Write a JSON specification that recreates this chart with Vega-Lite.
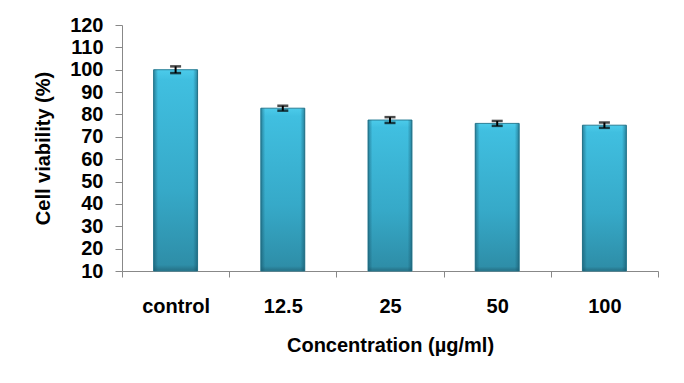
{
  "$schema": "https://vega.github.io/schema/vega-lite/v6.json",
  "autosize": {"type": "none"},
  "padding": {"left": 122, "top": 25, "right": 26, "bottom": 112},
  "width": 536,
  "height": 246,
  "background": "white",
  "config": {
    "view": {"stroke": null},
    "font": "Liberation Sans",
    "axis": {
      "domainColor": "#888888",
      "tickColor": "#888888",
      "domainWidth": 1,
      "tickWidth": 1,
      "grid": false,
      "labelFont": "Liberation Sans",
      "labelFontWeight": "bold",
      "labelFontSize": 20,
      "labelColor": "#000000",
      "labelOverlap": false,
      "titleFont": "Liberation Sans",
      "titleFontWeight": "bold",
      "titleFontSize": 20,
      "titleColor": "#000000"
    },
    "axisY": {"labelOverlap": false, "tickSize": 7, "labelPadding": 12, "titlePadding": 16}
  },
  "data": {
    "values": [
      {"conc": "control", "viability": 100.0, "err": 1.5},
      {"conc": "12.5", "viability": 82.8, "err": 1.1},
      {"conc": "25", "viability": 77.5, "err": 1.3},
      {"conc": "50", "viability": 76.0, "err": 1.1},
      {"conc": "100", "viability": 75.2, "err": 1.2}
    ]
  },
  "transform": [
    {"calculate": "datum.viability - datum.err", "as": "lo"},
    {"calculate": "datum.viability + datum.err", "as": "hi"}
  ],
  "encoding": {
    "x": {
      "field": "conc",
      "type": "nominal",
      "sort": ["control", "12.5", "25", "50", "100"],
      "scale": {"paddingInner": 0, "paddingOuter": 0},
      "axis": {
        "title": "Concentration (µg/ml)",
        "labelAngle": 0,
        "labelFontSize": 20,
        "tickBand": "extent",
        "tickSize": 6,
        "labelPadding": 19,
        "titlePadding": 19
      }
    }
  },
  "layer": [
    {
      "mark": {
        "type": "bar",
        "width": {"band": 0.41},
        "color": {
          "x1": 0, "y1": 0, "x2": 0, "y2": 1,
          "gradient": "linear",
          "stops": [
            {"offset": 0, "color": "#4CCBEA"},
            {"offset": 0.05, "color": "#40BFE0"},
            {"offset": 0.6, "color": "#36A9C8"},
            {"offset": 0.97, "color": "#2E8EA8"},
            {"offset": 1, "color": "#256F84"}
          ]
        },
        "stroke": "#2A7F96",
        "strokeWidth": 1
      },
      "encoding": {
        "y": {
          "field": "viability",
          "type": "quantitative",
          "scale": {"domain": [10, 120], "nice": false, "zero": false},
          "axis": {"title": "Cell viability (%)", "values": [10, 20, 30, 40, 50, 60, 70, 80, 90, 100, 110, 120], "labelOverlap": false}
        },
        "y2": {"datum": 10}
      }
    },
    {
      "mark": {
        "type": "bar",
        "width": {"band": 0.41},
        "color": {
          "x1": 0, "y1": 0, "x2": 1, "y2": 0,
          "gradient": "linear",
          "stops": [
            {"offset": 0, "color": "rgba(20,80,100,0.55)"},
            {"offset": 0.1, "color": "rgba(20,80,100,0.0)"},
            {"offset": 0.9, "color": "rgba(20,80,100,0.0)"},
            {"offset": 1, "color": "rgba(20,80,100,0.55)"}
          ]
        }
      },
      "encoding": {
        "y": {"field": "viability", "type": "quantitative",
          "axis": {"title": "Cell viability (%)", "values": [10, 20, 30, 40, 50, 60, 70, 80, 90, 100, 110, 120], "labelOverlap": false}},
        "y2": {"datum": 10}
      }
    },
    {
      "mark": {"type": "rule", "color": "#000000", "strokeWidth": 2},
      "encoding": {
        "y": {"field": "lo", "type": "quantitative",
          "axis": {"title": "Cell viability (%)", "values": [10, 20, 30, 40, 50, 60, 70, 80, 90, 100, 110, 120], "labelOverlap": false}},
        "y2": {"field": "hi"}
      }
    },
    {
      "mark": {"type": "tick", "color": "#000000", "thickness": 2.5, "size": 11},
      "encoding": {
        "y": {"field": "lo", "type": "quantitative",
          "axis": {"title": "Cell viability (%)", "values": [10, 20, 30, 40, 50, 60, 70, 80, 90, 100, 110, 120], "labelOverlap": false}}
      }
    },
    {
      "mark": {"type": "tick", "color": "#000000", "thickness": 2.5, "size": 11},
      "encoding": {
        "y": {"field": "hi", "type": "quantitative",
          "axis": {"title": "Cell viability (%)", "values": [10, 20, 30, 40, 50, 60, 70, 80, 90, 100, 110, 120], "labelOverlap": false}}
      }
    }
  ]
}
